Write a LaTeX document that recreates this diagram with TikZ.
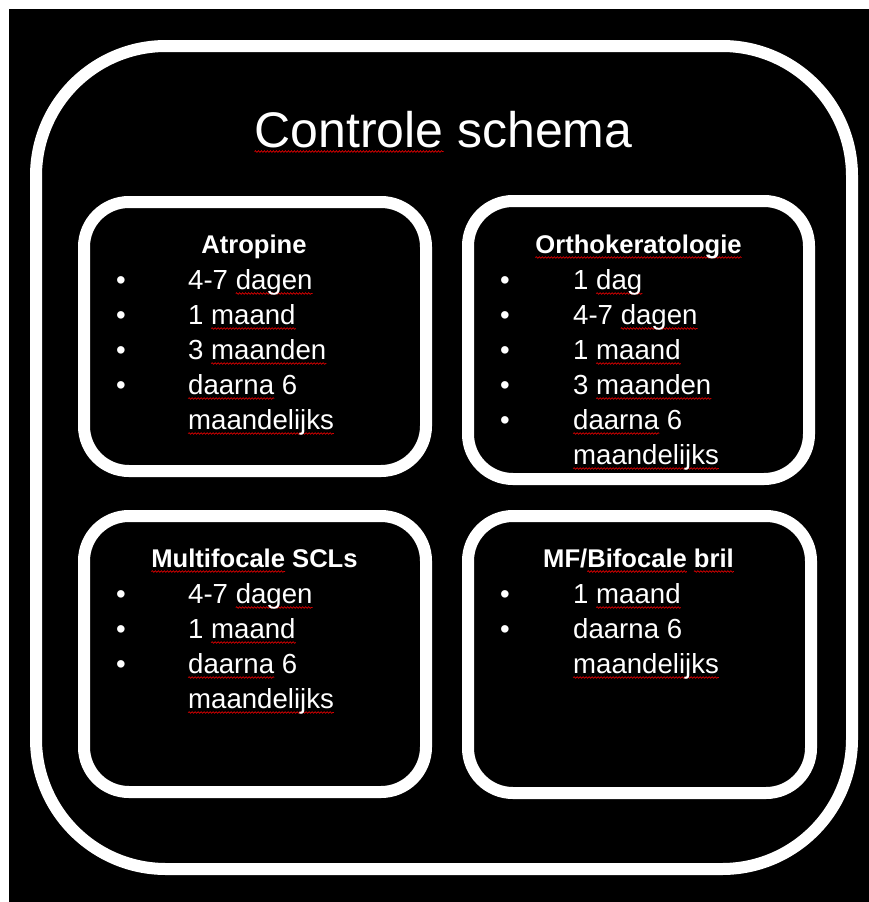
\documentclass[tikz,border=0pt]{standalone}
\usepackage{fontspec}
\setmainfont{Liberation Sans}
\usetikzlibrary{decorations.pathmorphing}
\newlength\sqw
\newcommand\sq[1]{\settowidth\sqw{#1}\rlap{\tikz[overlay,baseline=0pt]\draw[red!85!black,line width=0.7pt,decorate,decoration={snake,amplitude=0.8pt,segment length=3pt}] (0pt,-4.5pt) -- (\sqw,-4.5pt);}#1}
\begin{document}
\begin{tikzpicture}[x=1pt,y=-1pt,
  box/.style={draw=white,line width=12pt,rounded corners=45pt,inner sep=0pt,outer sep=0pt,shape=rectangle},
  bigbox/.style={box,rounded corners=130pt},
  title/.style={text=white,inner sep=0pt,anchor=base,font=\fontsize{50}{55}\selectfont},
  head/.style={text=white,inner sep=0pt,anchor=base,font=\bfseries\fontsize{25.6}{30}\selectfont},
  item/.style={text=white,inner sep=0pt,anchor=base west,font=\fontsize{27.6}{33}\selectfont},
  bul/.style={text=white,inner sep=0pt,anchor=base,font=\fontsize{27.6}{33}\selectfont}]
\useasboundingbox (0,0) rectangle (868,902);
\fill[white] (-5,-5) rectangle (880,915);
\fill[black] (9,9) rectangle (880,915);
% boxes
\node[bigbox,minimum width=816pt,minimum height=823pt] (outer) at (444,457.5) {};
\node[box,minimum width=342pt,minimum height=269pt] (atro) at (255,336.5) {};
\node[box,minimum width=341pt,minimum height=278pt] (ortho) at (638.5,340) {};
\node[box,minimum width=342pt,minimum height=276pt] (multi) at (255,654) {};
\node[box,minimum width=343pt,minimum height=277pt] (mf) at (639.5,654.5) {};
% title
\node[title] (t) at (443.5,147) {\sq{Controle} schema};
% Atropine
\node[head] (ah) at (254,253) {Atropine};
\node[bul] (ab1) at (121,289) {•};
\node[bul] (ab2) at (121,324) {•};
\node[bul] (ab3) at (121,359) {•};
\node[bul] (ab4) at (121,394) {•};
\node[item] (a1) at (188,289) {4-7 \sq{dagen}};
\node[item] (a2) at (188,324) {1 \sq{maand}};
\node[item] (a3) at (188,359) {3 \sq{maanden}};
\node[item] (a4) at (188,394) {\sq{daarna} 6};
\node[item] (a5) at (188,429) {\sq{maandelijks}};
% Orthokeratologie
\node[head] (oh) at (638.5,253) {\sq{Orthokeratologie}};
\node[bul] (ob1) at (505,289) {•};
\node[bul] (ob2) at (505,324) {•};
\node[bul] (ob3) at (505,359) {•};
\node[bul] (ob4) at (505,394) {•};
\node[bul] (ob5) at (505,429) {•};
\node[item] (o1) at (573,289) {1 \sq{dag}};
\node[item] (o2) at (573,324) {4-7 \sq{dagen}};
\node[item] (o3) at (573,359) {1 \sq{maand}};
\node[item] (o4) at (573,394) {3 \sq{maanden}};
\node[item] (o5) at (573,429) {\sq{daarna} 6};
\node[item] (o6) at (573,464) {\sq{maandelijks}};
% Multifocale SCLs
\node[head] (mh) at (254.5,567) {\sq{Multifocale} SCLs};
\node[bul] (mb1) at (121,603) {•};
\node[bul] (mb2) at (121,638) {•};
\node[bul] (mb3) at (121,673) {•};
\node[item] (m1) at (188,603) {4-7 \sq{dagen}};
\node[item] (m2) at (188,638) {1 \sq{maand}};
\node[item] (m3) at (188,673) {\sq{daarna} 6};
\node[item] (m4) at (188,708) {\sq{maandelijks}};
% MF/Bifocale bril
\node[head] (fh) at (638.5,567) {MF/\sq{Bifocale} \sq{bril}};
\node[bul] (fb1) at (505,603) {•};
\node[bul] (fb2) at (505,638) {•};
\node[item] (f1) at (573,603) {1 \sq{maand}};
\node[item] (f2) at (573,638) {daarna 6};
\node[item] (f3) at (573,673) {\sq{maandelijks}};
\end{tikzpicture}
\end{document}
